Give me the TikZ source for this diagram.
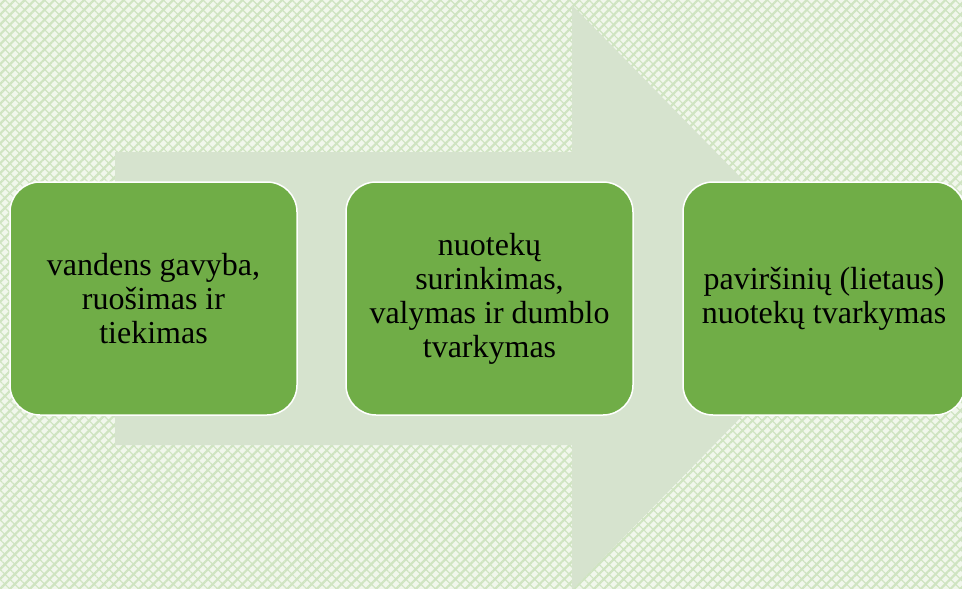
\documentclass[tikz,border=0pt]{standalone}
\usepackage{fontspec}
\setmainfont{Liberation Serif}
\usetikzlibrary{patterns.meta}

\definecolor{boxgreen}{HTML}{70AD47}
\definecolor{arrowgreen}{HTML}{D6E3CE}
\definecolor{bgpale}{HTML}{F1F7EC}
\definecolor{bgline}{HTML}{CFE4C1}

\begin{document}
\begin{tikzpicture}[x=1pt, y=-1pt]
    \useasboundingbox (0,0) rectangle (962,589);

    % background
    \fill[bgpale] (0,0) rectangle (962,589);
    \fill[pattern={Lines[angle=45, distance=7pt, line width=2.2pt]}, pattern color=bgline] (0,0) rectangle (962,589);
    \fill[pattern={Lines[angle=-45, distance=7pt, line width=1.2pt]}, pattern color=bgline] (0,0) rectangle (962,589);

    % big arrow
    \fill[arrowgreen] (115,152) -- (572,152) -- (572,5) -- (858,297.5)
        -- (572,590) -- (572,445) -- (115,445) -- cycle;

    \begin{scope}[every node/.style={rectangle, rounded corners=30pt, fill=boxgreen, draw=white, line width=1.5pt,
            minimum width=287pt, minimum height=233pt, align=center, text=black,
            font=\fontsize{32}{34}\selectfont}]
        \node (1) at (153.5,298.5) {vandens gavyba,\\ruošimas ir\\tiekimas};
        \node (2) at (489.5,298.5) {nuotekų\\surinkimas,\\valymas ir dumblo\\tvarkymas};
        \node[minimum width=282pt] (3) at (824,298.5) {paviršinių (lietaus)\\nuotekų tvarkymas};
    \end{scope}
\end{tikzpicture}
\end{document}
